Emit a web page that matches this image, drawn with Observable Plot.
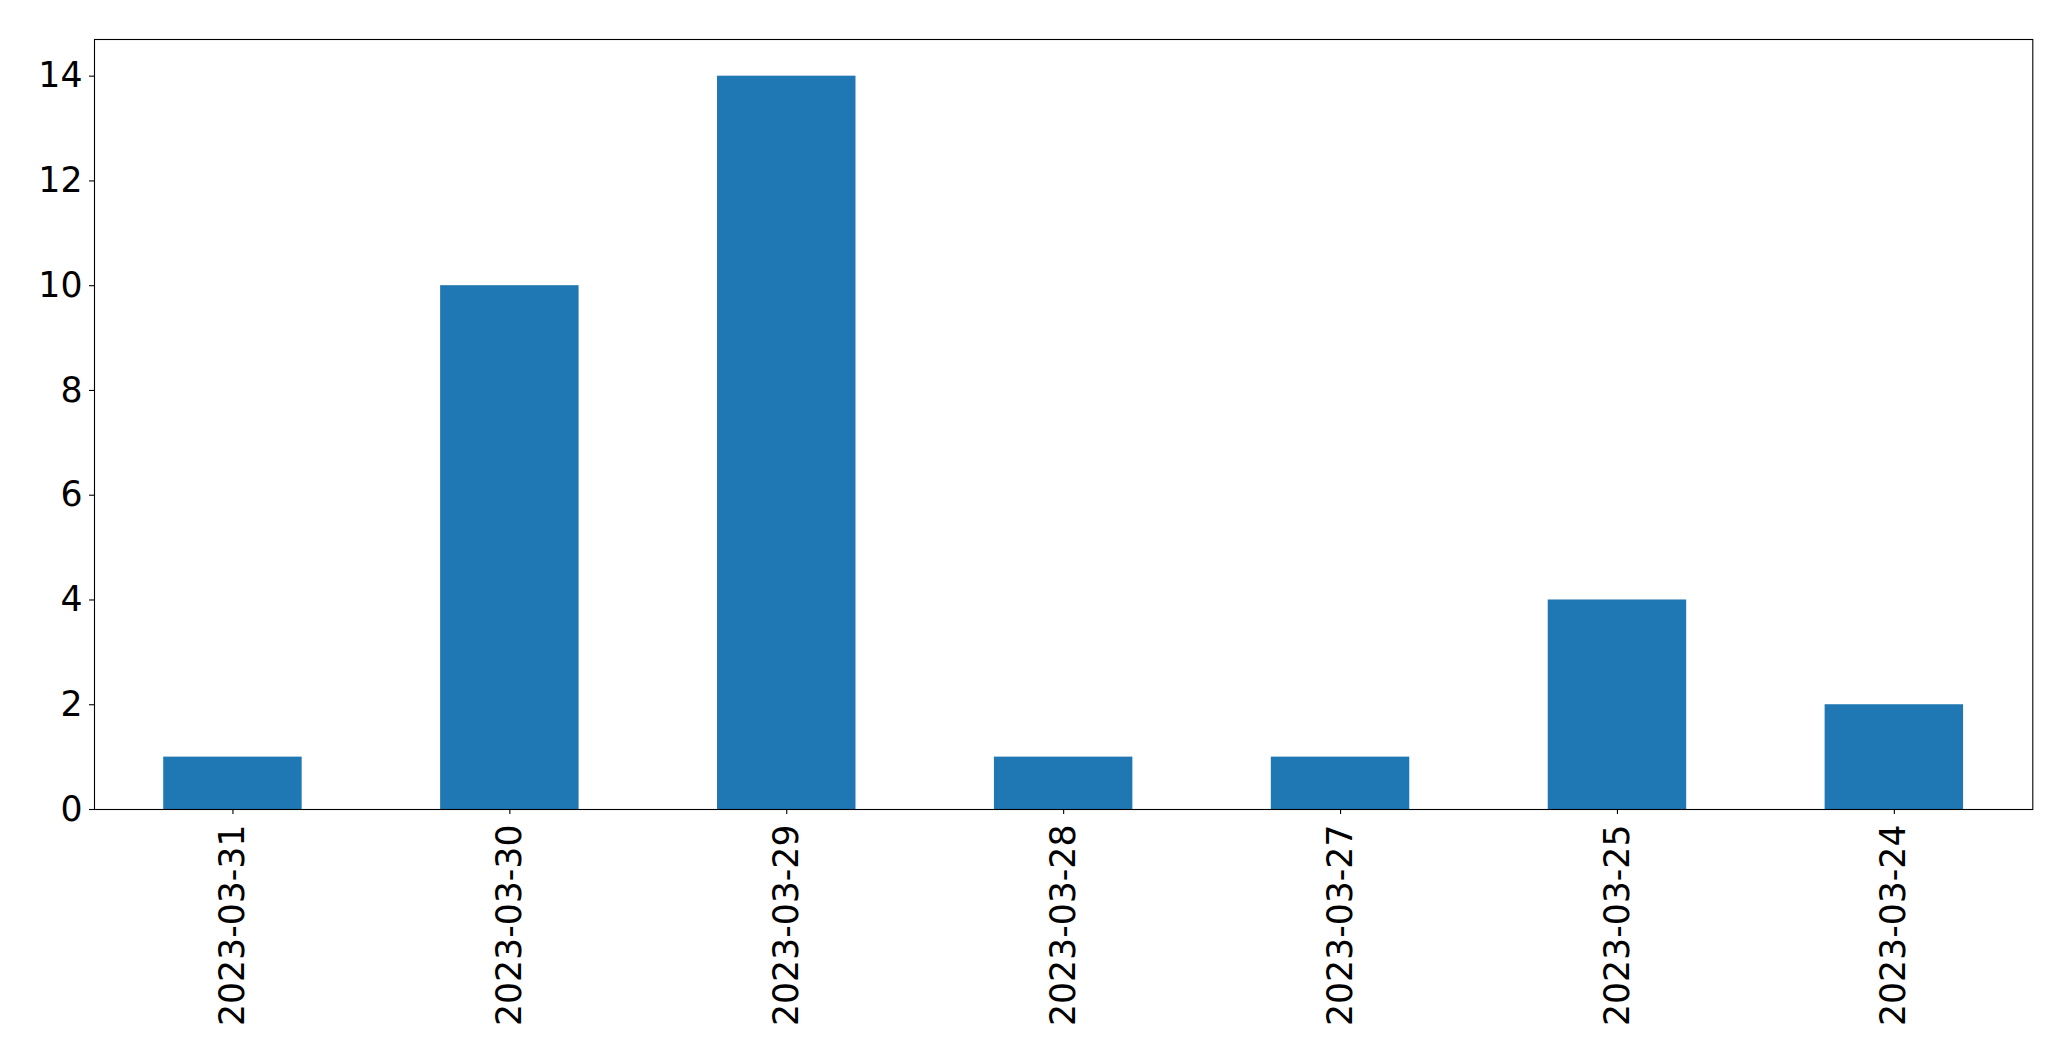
<!DOCTYPE html>
<html>
<head>
<meta charset="utf-8">
<script src="https://cdn.jsdelivr.net/npm/d3@7"></script>
<script src="https://cdn.jsdelivr.net/npm/@observablehq/plot@0.6"></script>
<style>
  html, body { margin: 0; padding: 0; background: #fff; }
  svg { display: block; }
</style>
</head>
<body>
<div id="chart"></div>
<script>
const dates = ["2023-03-31", "2023-03-30", "2023-03-29", "2023-03-28", "2023-03-27", "2023-03-25", "2023-03-24"];
const counts = [1, 10, 14, 1, 1, 4, 2];
const yTicks = [0, 2, 4, 6, 8, 10, 12, 14];

const data = dates.map((d, i) => ({date: d, count: counts[i]}));

const fs = 34.7;
const chart = Plot.plot({
  width: 2071,
  height: 1061,
  marginLeft: 94,
  marginRight: 38.7,
  marginTop: 39,
  marginBottom: 252,
  style: {fontFamily: "DejaVu Sans", background: "#fff", color: "#000"},
  x: {domain: dates, paddingInner: 0.5, paddingOuter: 0.25, round: false, label: null},
  y: {domain: [0, 14.7], label: null},
  marks: [
    Plot.barY(data, {x: "date", y: "count", fill: "#1f77b4"}),
    Plot.frame({stroke: "#000", strokeWidth: 1.1}),
    Plot.axisY({ticks: yTicks, tickFormat: "d", tickSize: 5, tickPadding: 7, fontSize: fs, label: null, stroke: "#000", strokeWidth: 1.1}),
    Plot.axisX({tickRotate: -90, tickSize: 5, tickPadding: 10, fontSize: fs, label: null, stroke: "#000", strokeWidth: 1.1})
  ]
});
document.getElementById("chart").appendChild(chart);
</script>
</body>
</html>
